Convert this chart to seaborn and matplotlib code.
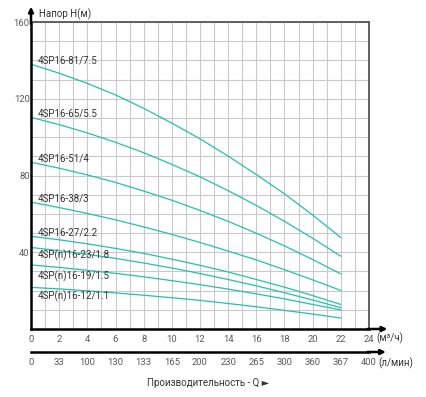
import numpy as np
import pandas as pd
import matplotlib
matplotlib.use("Agg")
import matplotlib.pyplot as plt
import seaborn as sns

flow = [0, 2, 4, 6, 8, 10, 12, 14, 16, 18, 20, 22]

h_81 = [138.0, 133.3, 128.0, 122.0, 115.0, 107.3, 99.1, 90.1, 80.5, 70.4, 59.4, 47.6]
h_65 = [110.3, 106.5, 102.2, 97.3, 91.9, 85.8, 79.3, 72.1, 64.4, 56.1, 47.3, 37.9]
h_51 = [86.9, 83.8, 80.3, 76.4, 71.9, 67.1, 61.8, 56.1, 49.9, 43.3, 36.2, 28.7]
h_38 = [66.1, 63.3, 60.2, 56.9, 53.2, 49.3, 45.1, 40.6, 36.0, 30.9, 25.6, 20.1]
h_27 = [48.3, 46.5, 44.4, 42.0, 39.4, 36.4, 33.2, 29.7, 25.8, 21.8, 17.4, 12.8]
h_23 = [42.5, 40.8, 38.9, 36.8, 34.4, 31.8, 28.9, 25.8, 22.5, 18.9, 15.1, 11.1]
h_19 = [33.4, 32.1, 30.6, 29.0, 27.2, 25.2, 23.1, 20.8, 18.3, 15.7, 12.8, 9.9]
h_12 = [21.7, 20.9, 19.9, 18.8, 17.6, 16.3, 14.9, 13.3, 11.6, 9.7, 7.8, 5.7]

models = ["4SP16-81/7.5", "4SP16-65/5.5", "4SP16-51/4", "4SP16-38/3",
          "4SP16-27/2.2", "4SP(n)16-23/1.8", "4SP(n)16-19/1.5", "4SP(n)16-12/1.1"]
heads = [h_81, h_65, h_51, h_38, h_27, h_23, h_19, h_12]

# where each model name sits (head value of the text centre)
label_y = [139.7, 112.4, 89.0, 68.2, 50.5, 38.4, 27.5, 17.1]

q_ticks = [0, 2, 4, 6, 8, 10, 12, 14, 16, 18, 20, 22, 24]
lpm_labels = ["0", "33", "100", "130", "133", "165", "200", "230", "265",
              "300", "360", "367", "400"]
h_ticks = [40, 80, 120, 160]

rows = []
for name, hs in zip(models, heads):
    for q, h in zip(flow, hs):
        rows.append({"Q": q, "H": h, "model": name})
df = pd.DataFrame(rows)

sns.set_style("white")
plt.rcParams["font.family"] = ["Roboto", "DejaVu Sans"]

teal = "#22c1b2"
grid_c = "#c9c9cb"
txt = "#333333"
tick_c = "#5a5a5a"

fig = plt.figure(figsize=(4.26, 3.97), dpi=100)
ax = fig.add_axes([31 / 426, 1 - 329 / 397, 338 / 426, 307 / 397])

sns.lineplot(data=df, x="Q", y="H", hue="model", palette=[teal] * len(models),
             linewidth=0.9, legend=False, ax=ax)

ax.set_xlim(0, 24)
ax.set_ylim(0, 160)
ax.set_xticks(q_ticks)
ax.set_xticks(np.arange(0, 25, 1), minor=True)
ax.set_yticks(h_ticks)
ax.set_yticks(np.arange(0, 161, 10), minor=True)
ax.grid(True, which="both", color=grid_c, linewidth=0.8)
ax.set_axisbelow(True)
ax.tick_params(axis="both", which="both", length=0, labelsize=6.8,
               labelcolor=tick_c)
ax.tick_params(axis="x", pad=4)
ax.tick_params(axis="y", pad=1)
ax.set_xlabel("")
ax.set_ylabel("")

for side in ["left", "bottom"]:
    ax.spines[side].set_color("black")
    ax.spines[side].set_linewidth(1.8)
for side in ["top", "right"]:
    ax.spines[side].set_color("#555555")
    ax.spines[side].set_linewidth(1.3)

# axis arrows
arrow = dict(arrowstyle="-|>", lw=1.8, color="black", mutation_scale=7,
             shrinkA=0, shrinkB=0)
ax.annotate("", xy=(25.3, 0), xytext=(23.9, 0), arrowprops=arrow,
            annotation_clip=False)
ax.annotate("", xy=(0, 168), xytext=(0, 159), arrowprops=arrow,
            annotation_clip=False)

# second flow scale in l/min
sec_off = -23 / 307
sec = ax.secondary_xaxis(sec_off)
sec.set_xticks(q_ticks, labels=lpm_labels)
sec.tick_params(length=0, labelsize=6.8, labelcolor=tick_c, pad=4)
sec.spines["bottom"].set_linewidth(1.8)
sec.spines["bottom"].set_color("black")
ax.annotate("", xy=(25.2, sec_off), xytext=(23.9, sec_off),
            xycoords=ax.get_xaxis_transform(),
            textcoords=ax.get_xaxis_transform(),
            arrowprops=arrow, annotation_clip=False)

# units
xt = ax.get_xaxis_transform()
ax.text(24.55, -9 / 307, "(м³/ч)", transform=xt, ha="left", va="center",
        fontsize=7, color=txt)
ax.text(24.65, -34 / 307, "(л/мин)", transform=xt, ha="left", va="center",
        fontsize=7, color=txt)

# model names
for name, y in zip(models, label_y):
    ax.text(0.5, y, name, ha="left", va="center", fontsize=7, color=txt)

fig.text(39 / 426, 1 - 14 / 397, "Напор H(м)", ha="left", va="center",
         fontsize=7, color=txt)
fig.text(208 / 426, 1 - 383 / 397, "Производительность - Q ►", ha="center",
         va="center", fontsize=7, color=txt,
         family=["Roboto", "DejaVu Sans"])

fig.savefig("out.png", dpi=100)
